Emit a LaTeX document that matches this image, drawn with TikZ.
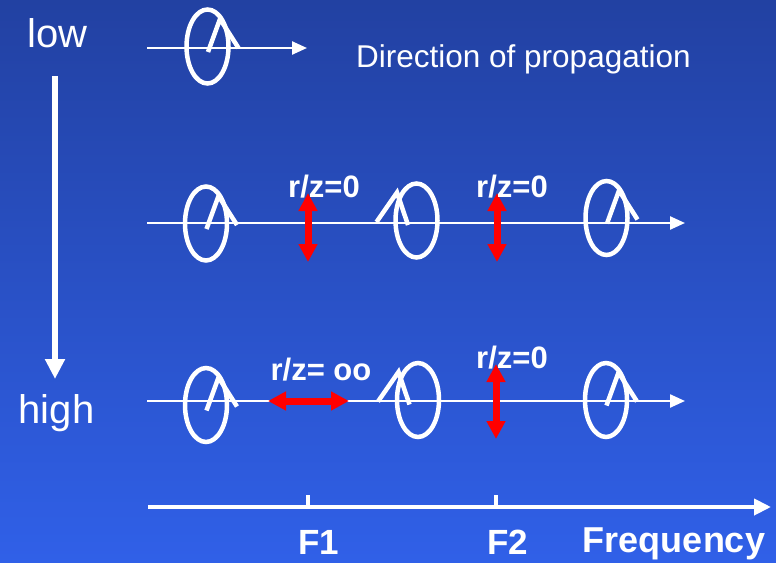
\documentclass[tikz,border=0pt]{standalone}
\usepackage{fontspec}
\setmainfont{Liberation Sans}
\usetikzlibrary{arrows.meta}
\definecolor{bgtop}{RGB}{34,65,162}
\definecolor{bgbot}{RGB}{48,96,232}
\begin{document}
\begin{tikzpicture}[x=1pt,y=-1pt,
  wire/.style={white, line width=2.4pt, -{Triangle[length=15pt,width=13pt]}},
  ring/.style={draw=white, line width=4.5pt},
  lam/.style={white, line width=4.5pt, line join=miter},
  redarrow/.style={red, line width=7pt, {Triangle[length=18pt,width=18pt]}-{Triangle[length=18pt,width=18pt]}},
  lbl/.style={white, inner sep=0pt, font=\fontsize{40}{48}\selectfont},
  rz/.style={white, inner sep=0pt, font=\fontsize{31}{37}\selectfont\bfseries},
  freq/.style={white, inner sep=0pt, font=\fontsize{35}{42}\selectfont\bfseries},
  glyphR/.pic={
    \draw[ring] (0,0) ellipse [x radius=21pt, y radius=37pt];
    \draw[lam] (0.5,5.5) -- (12.5,-27.5) -- (31,1.5);
  },
  glyphL/.pic={
    \draw[ring] (0,0) ellipse [x radius=21pt, y radius=37pt];
    \draw[lam] (-8.5,4.5) -- (-19.5,-28) -- (-40,1.5);
  }]
  % background
  \shade[top color=bgtop, bottom color=bgbot] (0,0) rectangle (776,562);
  \useasboundingbox (0,0) rectangle (776,562);

  % end points of the propagation lines and the frequency axis
  \coordinate (r1s) at (147,48);  \coordinate (r1e) at (307,48);
  \coordinate (r2s) at (147,223); \coordinate (r2e) at (685,223);
  \coordinate (r3s) at (147,401); \coordinate (r3e) at (685,401);
  \coordinate (fs)  at (148,507); \coordinate (fe)  at (771,507);
  \coordinate (vs)  at (55,76);   \coordinate (ve)  at (55,379);

  \draw[wire] (r1s) -- (r1e);
  \draw[wire] (r2s) -- (r2e);
  \draw[wire] (r3s) -- (r3e);

  % polarisation glyphs
  \pic at (207.5,46.5) {glyphR};
  \pic at (206,223.5) {glyphR};
  \pic at (416.5,220.5) {glyphL};
  \pic at (606.5,218) {glyphR};
  \pic at (206,405) {glyphR};
  \pic at (418,400) {glyphL};
  \pic at (606,400) {glyphR};

  % low -> high arrow
  \draw[white, line width=6pt, -{Triangle[length=20pt,width=19pt]}] (vs) -- (ve);

  % frequency axis with ticks
  \draw[white, line width=4pt, -{Triangle[length=17pt,width=16pt]}] (fs) -- (fe);
  \coordinate (t1) at (308,507); \coordinate (t2) at (496,507);
  \draw[white, line width=4pt] (t1) -- ++(0,-12);
  \draw[white, line width=4pt] (t2) -- ++(0,-12);

  % red double arrows
  \coordinate (a1s) at (308,193); \coordinate (a1e) at (308,262);
  \coordinate (a2s) at (497,193); \coordinate (a2e) at (497,262);
  \coordinate (a3s) at (268,401); \coordinate (a3e) at (349,401);
  \coordinate (a4s) at (496,364); \coordinate (a4e) at (496,439);
  \draw[redarrow] (a1s) -- (a1e);
  \draw[redarrow] (a2s) -- (a2e);
  \draw[redarrow] (a3s) -- (a3e);
  \draw[redarrow] (a4s) -- (a4e);

  % labels
  \node[lbl, anchor=base] (low) at (57.5,47) {low};
  \node[lbl, anchor=base] (high) at (56.5,423) {high};
  \node[white, inner sep=0pt, anchor=base west, font=\fontsize{31.5}{38}\selectfont] (dir) at (356,67) {Direction of propagation};
  \node[rz, anchor=base] (rz1) at (324,197) {r/z=0};
  \node[rz, anchor=base] (rz2) at (512,197) {r/z=0};
  \node[rz, anchor=base] (rz3) at (321,380) {r/z= oo};
  \node[rz, anchor=base] (rz4) at (512,368) {r/z=0};
  \node[freq, anchor=base] (f1) at (319,554) {F1};
  \node[freq, anchor=base] (f2) at (508,554) {F2};
  \node[freq, font=\fontsize{36}{43}\selectfont\bfseries, anchor=base] (fq) at (674,552) {Frequency};
\end{tikzpicture}
\end{document}
